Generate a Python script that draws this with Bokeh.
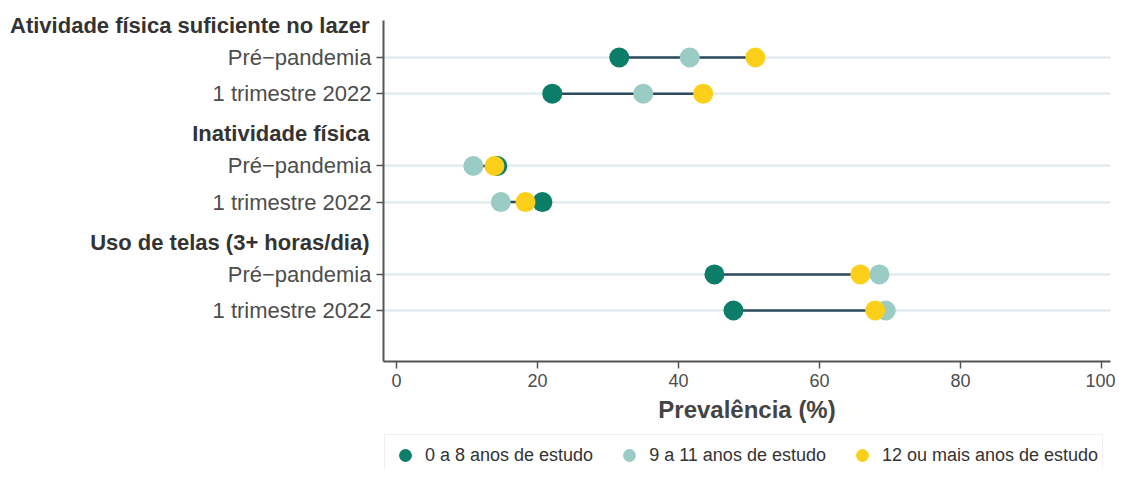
import numpy as np
from bokeh.plotting import figure
from bokeh.layouts import column
from bokeh.models import (ColumnDataSource, Range1d, FixedTicker, LinearAxis, Legend, LegendItem)
from bokeh.embed import file_html
from bokeh.resources import INLINE

# ---- data ----
groups = ["Atividade física suficiente no lazer", "Inatividade física", "Uso de telas (3+ horas/dia)"]
periods = ["Pré−pandemia", "1 trimestre 2022"]
series_names = ["0 a 8 anos de estudo", "9 a 11 anos de estudo", "12 ou mais anos de estudo"]
low_edu = [31.6, 22.1, 14.3, 20.7, 45.1, 47.8]     # 0 a 8 anos
mid_edu = [41.6, 35.0, 10.9, 14.8, 68.5, 69.4]     # 9 a 11 anos
high_edu = [50.9, 43.5, 13.9, 18.3, 65.8, 67.9]    # 12 ou mais
x_ticks = [0, 20, 40, 60, 80, 100]

colors = ["#0b7d68", "#9acbc4", "#fcd01a"]
FONT = "Liberation Sans"

# row positions: header of group g at 3g, its rows at 3g+1, 3g+2
header_pos = [3 * g + 0.11 for g in range(len(groups))]
row_pos = [3 * g + 1 + i for g in range(len(groups)) for i in range(len(periods))]
row_labels = [periods[i] for g in range(len(groups)) for i in range(len(periods))]

vals = np.array([low_edu, mid_edu, high_edu])
src = ColumnDataSource(dict(
    y=row_pos, low=low_edu, mid=mid_edu, high=high_edu,
    xmin=vals.min(axis=0), xmax=vals.max(axis=0)))

X0, X1 = -1.84, 101.28
p = figure(width=1115, height=434, output_backend="svg", toolbar_location=None,
           x_range=Range1d(X0, X1), y_range=Range1d(9.41, -0.024),
           min_border_left=383, min_border_right=5, min_border_top=20, min_border_bottom=73)
p.outline_line_color = None
p.background_fill_color = "white"

# axes
p.xaxis.ticker = FixedTicker(ticks=x_ticks)
p.xaxis.axis_label = "Prevalência (%)"
p.xaxis.axis_label_text_font = FONT
p.xaxis.axis_label_text_font_style = "bold"
p.xaxis.axis_label_text_font_size = "24px"
p.xaxis.axis_label_text_color = "#444444"
p.xaxis.axis_label_standoff = 6
p.yaxis.ticker = FixedTicker(ticks=row_pos)
p.yaxis.major_label_overrides = {pos: lab for pos, lab in zip(row_pos, row_labels)}
for ax in (p.xaxis, p.yaxis):
    ax.axis_line_color = "#555555"
    ax.axis_line_width = 2
    ax.major_tick_line_color = "#555555"
    ax.major_tick_line_width = 1.5
    ax.major_tick_out = 7
    ax.major_tick_in = 0
    ax.minor_tick_line_color = None
    ax.major_label_text_font = FONT
    ax.major_label_text_color = "#4d4d4d"
p.xaxis.major_label_text_font_size = "18px"
p.yaxis.major_label_text_font_size = "22px"
p.xaxis.major_label_standoff = 5
p.yaxis.major_label_standoff = 5

# group header axis: outer left axis, labels pulled back next to the row labels
header_axis = LinearAxis(ticker=FixedTicker(ticks=header_pos),
                         major_label_overrides={pos: g for pos, g in zip(header_pos, groups)},
                         axis_line_color=None, major_tick_line_color=None, minor_tick_line_color=None,
                         major_tick_out=0, major_tick_in=0,
                         major_label_standoff=-160,
                         major_label_text_font=FONT, major_label_text_font_style="bold",
                         major_label_text_font_size="22px", major_label_text_color="#333333")
p.add_layout(header_axis, "left")

p.xgrid.grid_line_color = None
p.ygrid.ticker = FixedTicker(ticks=row_pos)
p.ygrid.grid_line_color = "#dde7ee"
p.ygrid.grid_line_width = 2

# segments
p.segment(x0="xmin", x1="xmax", y0="y", y1="y", source=src,
          line_color="#2d4a5c", line_width=2.5)

p.scatter(x="low", y="y", source=src, size=20, fill_color=colors[0], line_color=None)
p.scatter(x="mid", y="y", source=src, size=20, fill_color=colors[1], line_color=None)
p.scatter(x="high", y="y", source=src, size=20, fill_color=colors[2], line_color=None)

# ---- legend strip below the chart ----
# its key renderers hold the same data, which lies outside this strip's view
pl = figure(width=1115, height=35, output_backend="svg", toolbar_location=None,
            x_range=Range1d(-1000, -999), y_range=Range1d(0, 1),
            x_axis_type=None, y_axis_type=None,
            min_border_left=0, min_border_right=0, min_border_top=0, min_border_bottom=0)
pl.outline_line_color = None
key_renderers = [pl.scatter(x=v, y=row_pos, size=20, fill_color=c, line_color=None)
                 for v, c in zip((low_edu, mid_edu, high_edu), colors)]
legend = Legend(items=[LegendItem(label=n, renderers=[r]) for n, r in zip(series_names, key_renderers)],
                location=(1, -7), orientation="horizontal",
                label_text_font=FONT, label_text_font_size="18px", label_text_color="#333333",
                glyph_width=32, glyph_height=32, spacing=20, padding=4, margin=0,
                border_line_color="#e2e2e2", border_line_width=1.5,
                background_fill_color="white", label_standoff=4)
pl.add_layout(legend, "center")

open("out.html", "w").write(file_html(column(p, pl, spacing=0), INLINE))
